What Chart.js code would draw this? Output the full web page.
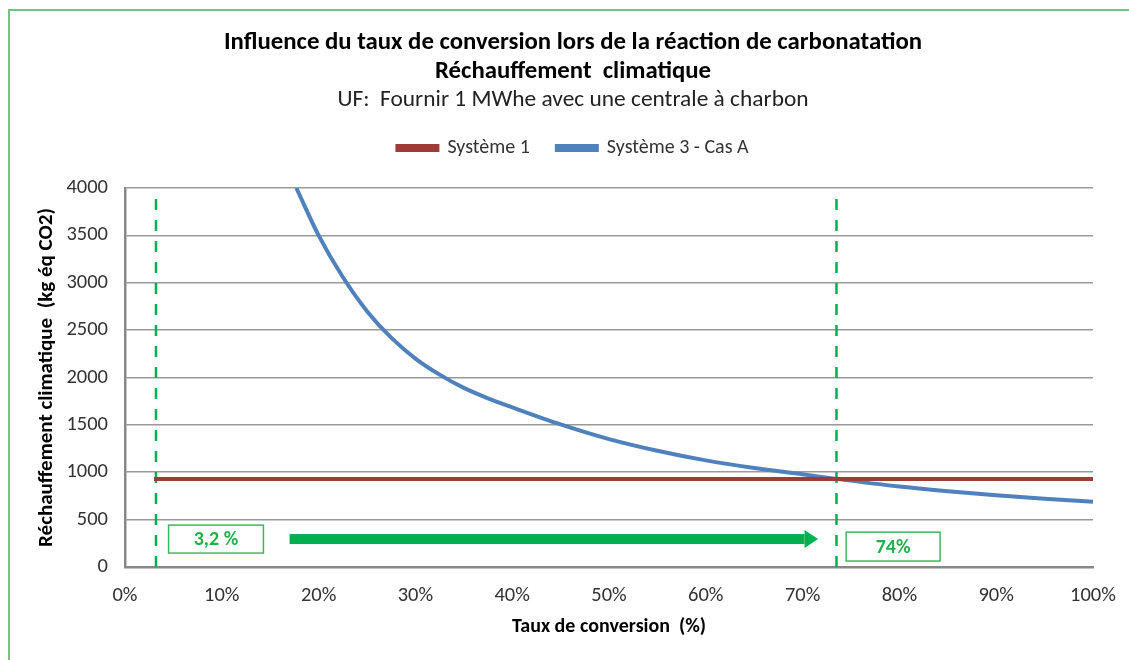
<!DOCTYPE html>
<html>
<head>
<meta charset="utf-8">
<script src="https://cdn.jsdelivr.net/npm/chart.js@4.4.1/dist/chart.umd.min.js"></script>
<style>
  html, body { margin: 0; padding: 0; background: #fff; overflow: hidden; }
  #frame { position: absolute; left: 8px; top: 9px; width: 1119px; height: 651px;
           border-left: 2px solid #6cc77f; border-top: 2px solid #6cc77f; }
  #wrap { position: absolute; left: 0; top: 0; width: 1129px; height: 660px; }
</style>
</head>
<body>
<div id="frame"></div>
<div id="wrap"><canvas id="chart"></canvas></div>
<script>
const FONT = 'Carlito, "Liberation Sans Narrow", "DejaVu Sans Condensed", "Open Sans", sans-serif';

// Système 1 (constant)
const sys1X = [3, 100];
const sys1Y = [928, 928];

// Système 3 - Cas A
const convX = [17.7, 20, 22.5, 25, 27.5, 30, 32.5, 35, 37.5, 40, 45, 50, 55, 60, 65, 70, 73.5, 80, 85, 90, 95, 100];
const convY = [4000, 3500, 3060, 2700, 2420, 2200, 2030, 1890, 1780, 1685, 1505, 1350, 1227, 1125, 1045, 978, 930, 850, 800, 758, 721, 688];

// seuils marqués en vert
const markerX = [3.2, 73.5];
const markerLabels = ["3,2 %", "74%"];
const markerTop = 3950;

const xTicks = [0, 10, 20, 30, 40, 50, 60, 70, 80, 90, 100];
const yTicks = [0, 500, 1000, 1500, 2000, 2500, 3000, 3500, 4000];

const GREEN = "#00b050";
const toPts = (xs, ys) => xs.map((x, i) => ({ x: x, y: ys[i] }));

// boîtes et flèche vertes (en unités des axes)
const annotPlugin = {
  id: "annot",
  afterDatasetsDraw(chart) {
    const { ctx, scales: { x, y } } = chart;
    ctx.save();
    // flèche
    const ay = y.getPixelForValue(295);
    const ax0 = x.getPixelForValue(17.0), ax1 = x.getPixelForValue(70.2), tip = x.getPixelForValue(71.6);
    ctx.fillStyle = GREEN;
    ctx.fillRect(ax0, ay - 5, ax1 - ax0, 10);
    ctx.beginPath();
    ctx.moveTo(ax1, ay - 9);
    ctx.lineTo(tip, ay);
    ctx.lineTo(ax1, ay + 9);
    ctx.closePath();
    ctx.fill();
    // boîtes
    const boxes = [
      { x0: 4.5, x1: 14.3, y0: 442, y1: 147 },
      { x0: 74.5, x1: 84.2, y0: 368, y1: 63 }
    ];
    boxes.forEach((b, i) => {
      const l = x.getPixelForValue(b.x0), r = x.getPixelForValue(b.x1);
      const t = y.getPixelForValue(b.y0), btm = y.getPixelForValue(b.y1);
      ctx.fillStyle = "#fff";
      ctx.fillRect(l, t, r - l, btm - t);
      ctx.strokeStyle = "#3cb95f";
      ctx.lineWidth = 1.5;
      ctx.strokeRect(l, t, r - l, btm - t);
      ctx.fillStyle = "#22b04b";
      ctx.font = "bold 20px " + FONT;
      ctx.textAlign = "center";
      ctx.textBaseline = "middle";
      ctx.fillText(markerLabels[i], (l + r) / 2, (t + btm) / 2 + 1);
    });
    ctx.restore();
  }
};

// espace sous la légende
const legendGap = {
  id: "legendGap",
  beforeInit(chart) {
    const fit = chart.legend.fit;
    chart.legend.fit = function () {
      fit.bind(chart.legend)();
      this.height += 20;
    };
  }
};

const datasets = [
  {
    label: "Système 1",
    data: toPts(sys1X, sys1Y),
    borderColor: "#9e3b37",
    backgroundColor: "#9e3b37",
    borderWidth: 4,
    pointRadius: 0
  },
  {
    label: "Système 3 - Cas A",
    data: toPts(convX, convY),
    borderColor: "#4f81bd",
    backgroundColor: "#4f81bd",
    borderWidth: 4,
    pointRadius: 0,
    cubicInterpolationMode: "monotone"
  }
];
markerX.forEach(mx => {
  datasets.push({
    label: "marker",
    data: [{ x: mx, y: 0 }, { x: mx, y: markerTop }],
    borderColor: GREEN,
    borderWidth: 2.5,
    borderDash: [11, 10],
    pointRadius: 0
  });
});

new Chart(document.getElementById("chart"), {
  type: "line",
  data: { datasets: datasets },
  options: {
    responsive: true,
    maintainAspectRatio: false,
    animation: false,
    layout: { padding: { left: 53, right: 36, top: 0, bottom: 0 } },
    plugins: {
      title: {
        display: true,
        text: ["Influence du taux de conversion lors de la réaction de carbonatation", "Réchauffement  climatique"],
        color: "#000",
        font: { family: FONT, size: 24.8, weight: "bold", lineHeight: 1.169 },
        padding: { top: 28.5, bottom: 0 }
      },
      subtitle: {
        display: true,
        text: "UF:  Fournir 1 MWhe avec une centrale à charbon",
        color: "#222",
        font: { family: FONT, size: 23.4, lineHeight: 0.94 },
        padding: { top: 2.5, bottom: 0 }
      },
      legend: {
        position: "top",
        labels: {
          filter: item => item.text !== "marker",
          boxWidth: 40,
          boxHeight: 4,
          padding: 27,
          color: "#333",
          font: { family: FONT, size: 20 }
        }
      },
      tooltip: { enabled: false }
    },
    scales: {
      x: {
        type: "linear",
        min: 0,
        max: 100,
        afterFit: s => { s.height = 93; s.paddingLeft = 0; s.paddingRight = 0; },
        afterBuildTicks: s => { s.ticks = xTicks.map(v => ({ value: v })); },
        ticks: {
          callback: v => v + "%",
          color: "#333",
          padding: 17,
          maxRotation: 0,
          font: { family: FONT, size: 20.5 }
        },
        grid: { display: false, drawTicks: false },
        border: { display: true, color: "#888", width: 2.5 },
        title: {
          display: true,
          text: "Taux de conversion  (%)",
          color: "#000",
          font: { family: FONT, size: 20, weight: "bold" },
          padding: { top: 0, bottom: 21 }
        }
      },
      y: {
        min: 0,
        max: 4000,
        afterFit: s => { s.width = 72; },
        afterBuildTicks: s => { s.ticks = yTicks.map(v => ({ value: v })); },
        ticks: {
          callback: v => String(v),
          color: "#333",
          padding: 17,
          font: { family: FONT, size: 20.5 }
        },
        grid: { color: "#999", lineWidth: 1.5, drawTicks: false },
        border: { display: true, color: "#888", width: 2.5 },
        title: {
          display: true,
          text: "Réchauffement climatique  (kg éq CO2)",
          color: "#000",
          font: { family: FONT, size: 21, weight: "bold" },
          padding: { top: -18.6, bottom: 0 }
        }
      }
    }
  },
  plugins: [annotPlugin, legendGap]
});
</script>
</body>
</html>
